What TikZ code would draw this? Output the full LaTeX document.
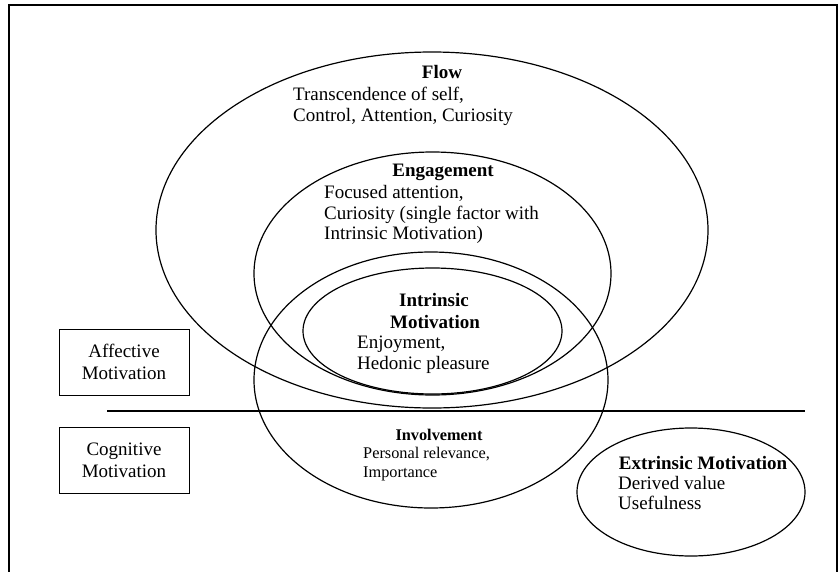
\documentclass[tikz,border=0pt]{standalone}
\usepackage{fontspec}
\setmainfont{Liberation Serif}
\usetikzlibrary{shapes.geometric}
\tikzset{
  oval/.style={draw, ellipse, line width=1.2pt, inner sep=0pt, outer sep=0pt},
  mainfont/.style={font=\fontsize{19}{21}\selectfont, inner sep=0pt},
  smallfont/.style={font=\fontsize{16.3}{18.5}\selectfont, inner sep=0pt},
  ttl/.style={mainfont, font=\fontsize{19}{21}\selectfont\bfseries, anchor=base},
  sttl/.style={smallfont, font=\fontsize{16.3}{18.5}\selectfont\bfseries, anchor=base},
  body/.style={mainfont, anchor=base west},
  sbody/.style={smallfont, anchor=base west},
  labelbox/.style={draw, line width=0.9pt, minimum width=130pt, minimum height=66pt,
    align=center, font=\fontsize{19}{22}\selectfont, inner sep=0pt},
  frameline/.style={line width=2pt},
  divider/.style={line width=1.2pt}
}
\begin{document}
\begin{tikzpicture}[x=1pt,y=-1pt]
\useasboundingbox (0,0) rectangle (839,571);
% frame (open at bottom)
\coordinate (fBL) at (9,575);
\coordinate (fTL) at (9,5);
\coordinate (fTR) at (837,5);
\coordinate (fBR) at (837,575);
\draw[frameline] (fBL) -- (fTL) -- (fTR) -- (fBR);
% ellipses
\node[oval, minimum width=552pt, minimum height=356pt] (flow) at (432,230) {};
\node[oval, minimum width=357pt, minimum height=243pt] (engage) at (432.5,273.5) {};
\node[oval, minimum width=259pt, minimum height=126pt] (intr) at (432.5,331) {};
\node[oval, minimum width=354pt, minimum height=256pt] (involve) at (431,380) {};
\node[oval, minimum width=228pt, minimum height=128pt] (extr) at (691,492) {};
% divider
\coordinate (lineL) at (107,411);
\coordinate (lineR) at (805,411);
\draw[divider] (lineL) -- (lineR);
% boxes
\node[labelbox] (affective) at (124,362) {Affective\\Motivation};
\node[labelbox] (cognitive) at (124,460) {Cognitive\\Motivation};
% Flow text
\node[ttl] (flowT) at (442,78) {Flow};
\node[body] (flowA) at (293,100) {Transcendence of self,};
\node[body] (flowB) at (293,121) {Control, Attention, Curiosity};
% Engagement text
\node[ttl] (engT) at (443,176) {Engagement};
\node[body] (engA) at (324,198) {Focused attention,};
\node[body] (engB) at (324,219) {Curiosity (single factor with};
\node[body] (engC) at (324,239) {Intrinsic Motivation)};
% Intrinsic text
\node[ttl] (intT1) at (434,306) {Intrinsic};
\node[ttl] (intT2) at (435,328) {Motivation};
\node[body] (intA) at (357,348) {Enjoyment,};
\node[body] (intB) at (357,369) {Hedonic pleasure};
% Involvement text
\node[sttl] (invT) at (439,440) {Involvement};
\node[sbody] (invA) at (363,458) {Personal relevance,};
\node[sbody] (invB) at (363,477) {Importance};
% Extrinsic text
\node[ttl] (extT) at (703,469) {Extrinsic Motivation};
\node[body] (extA) at (618,489) {Derived value};
\node[body] (extB) at (618,509) {Usefulness};
\end{tikzpicture}
\end{document}
